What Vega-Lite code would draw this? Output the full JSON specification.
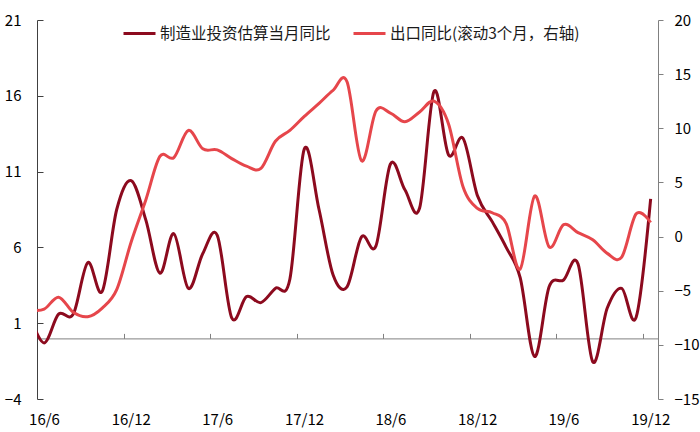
{
  "$schema": "https://vega.github.io/schema/vega-lite/v6.json",
  "width": 621,
  "height": 379,
  "autosize": "none",
  "padding": {"left": 37, "top": 20, "right": 42, "bottom": 33},
  "config": {
    "view": {"stroke": null},
    "font": "Noto Sans CJK SC",
    "axis": {"grid": false, "title": null, "labelFont": "Noto Sans CJK SC", "labelFontSize": 15, "labelColor": "#000000"}
  },
  "data": {
    "values": [
      {"month": "2016-05-01", "制造业投资估算当月同比": 1.5, "出口同比(滚动3个月，右轴)": -6.8},
      {"month": "2016-06-01", "制造业投资估算当月同比": -0.3, "出口同比(滚动3个月，右轴)": -6.7},
      {"month": "2016-07-01", "制造业投资估算当月同比": 1.6, "出口同比(滚动3个月，右轴)": -5.6},
      {"month": "2016-08-01", "制造业投资估算当月同比": 1.6, "出口同比(滚动3个月，右轴)": -7.0},
      {"month": "2016-09-01", "制造业投资估算当月同比": 5.0, "出口同比(滚动3个月，右轴)": -7.4},
      {"month": "2016-10-01", "制造业投资估算当月同比": 3.1, "出口同比(滚动3个月，右轴)": -6.6},
      {"month": "2016-11-01", "制造业投资估算当月同比": 8.5, "出口同比(滚动3个月，右轴)": -4.9},
      {"month": "2016-12-01", "制造业投资估算当月同比": 10.4, "出口同比(滚动3个月，右轴)": -0.5},
      {"month": "2017-01-01", "制造业投资估算当月同比": 7.8, "出口同比(滚动3个月，右轴)": 3.4},
      {"month": "2017-02-01", "制造业投资估算当月同比": 4.3, "出口同比(滚动3个月，右轴)": 7.4},
      {"month": "2017-03-01", "制造业投资估算当月同比": 6.9, "出口同比(滚动3个月，右轴)": 7.3},
      {"month": "2017-04-01", "制造业投资估算当月同比": 3.3, "出口同比(滚动3个月，右轴)": 9.8},
      {"month": "2017-05-01", "制造业投资估算当月同比": 5.6, "出口同比(滚动3个月，右轴)": 8.1},
      {"month": "2017-06-01", "制造业投资估算当月同比": 6.8, "出口同比(滚动3个月，右轴)": 8.0},
      {"month": "2017-07-01", "制造业投资估算当月同比": 1.35, "出口同比(滚动3个月，右轴)": 7.2},
      {"month": "2017-08-01", "制造业投资估算当月同比": 2.75, "出口同比(滚动3个月，右轴)": 6.5},
      {"month": "2017-09-01", "制造业投资估算当月同比": 2.36, "出口同比(滚动3个月，右轴)": 6.3},
      {"month": "2017-10-01", "制造业投资估算当月同比": 3.3, "出口同比(滚动3个月，右轴)": 8.8},
      {"month": "2017-11-01", "制造业投资估算当月同比": 3.9, "出口同比(滚动3个月，右轴)": 9.8},
      {"month": "2017-12-01", "制造业投资估算当月同比": 12.5, "出口同比(滚动3个月，右轴)": 11.1},
      {"month": "2018-01-01", "制造业投资估算当月同比": 8.5, "出口同比(滚动3个月，右轴)": 12.3},
      {"month": "2018-02-01", "制造业投资估算当月同比": 4.2, "出口同比(滚动3个月，右轴)": 13.5},
      {"month": "2018-03-01", "制造业投资估算当月同比": 3.4, "出口同比(滚动3个月，右轴)": 14.3},
      {"month": "2018-04-01", "制造业投资估算当月同比": 6.7, "出口同比(滚动3个月，右轴)": 7.0},
      {"month": "2018-05-01", "制造业投资估算当月同比": 6.1, "出口同比(滚动3个月，右轴)": 11.6},
      {"month": "2018-06-01", "制造业投资估算当月同比": 11.5, "出口同比(滚动3个月，右轴)": 11.4},
      {"month": "2018-07-01", "制造业投资估算当月同比": 9.8, "出口同比(滚动3个月，右轴)": 10.6},
      {"month": "2018-08-01", "制造业投资估算当月同比": 8.6, "出口同比(滚动3个月，右轴)": 11.5},
      {"month": "2018-09-01", "制造业投资估算当月同比": 16.3, "出口同比(滚动3个月，右轴)": 12.5},
      {"month": "2018-10-01", "制造业投资估算当月同比": 12.1, "出口同比(滚动3个月，右轴)": 10.4},
      {"month": "2018-11-01", "制造业投资估算当月同比": 13.2, "出口同比(滚动3个月，右轴)": 4.6},
      {"month": "2018-12-01", "制造业投资估算当月同比": 9.4, "出口同比(滚动3个月，右轴)": 2.6},
      {"month": "2019-01-01", "制造业投资估算当月同比": 7.7, "出口同比(滚动3个月，右轴)": 2.2},
      {"month": "2019-02-01", "制造业投资估算当月同比": 6.0, "出口同比(滚动3个月，右轴)": 1.2},
      {"month": "2019-03-01", "制造业投资估算当月同比": 4.0, "出口同比(滚动3个月，右轴)": -3.0},
      {"month": "2019-04-01", "制造业投资估算当月同比": -1.2, "出口同比(滚动3个月，右轴)": 3.75},
      {"month": "2019-05-01", "制造业投资估算当月同比": 3.4, "出口同比(滚动3个月，右轴)": -0.95},
      {"month": "2019-06-01", "制造业投资估算当月同比": 3.85, "出口同比(滚动3个月，右轴)": 1.1},
      {"month": "2019-07-01", "制造业投资估算当月同比": 4.9, "出口同比(滚动3个月，右轴)": 0.36},
      {"month": "2019-08-01", "制造业投资估算当月同比": -1.55, "出口同比(滚动3个月，右轴)": -0.3},
      {"month": "2019-09-01", "制造业投资估算当月同比": 2.0, "出口同比(滚动3个月，右轴)": -1.55},
      {"month": "2019-10-01", "制造业投资估算当月同比": 3.3, "出口同比(滚动3个月，右轴)": -1.9},
      {"month": "2019-11-01", "制造业投资估算当月同比": 1.4, "出口同比(滚动3个月，右轴)": 2.1},
      {"month": "2019-12-01", "制造业投资估算当月同比": 9.2, "出口同比(滚动3个月，右轴)": 1.3}
    ]
  },
  "transform": [
    {"fold": ["制造业投资估算当月同比", "出口同比(滚动3个月，右轴)"], "as": ["series", "value"]}
  ],
  "layer": [
    {
      "transform": [{"filter": "datum.series == '制造业投资估算当月同比'"}],
      "mark": {"type": "line", "interpolate": "cardinal", "strokeWidth": 3, "clip": true},
      "encoding": {
        "x": {
          "field": "month", "type": "temporal", "timeUnit": "utcyearmonth", "bandPosition": 0.5,
          "scale": {"type": "utc", "domain": [{"year": 2016, "month": 6, "date": 1, "utc": true}, {"year": 2020, "month": 1, "date": 1, "utc": true}]},
          "axis": {
            "orient": "bottom",
            "values": [
              {"year": 2016, "month": 6, "date": 1, "utc": true},
              {"year": 2016, "month": 12, "date": 1, "utc": true},
              {"year": 2017, "month": 6, "date": 1, "utc": true},
              {"year": 2017, "month": 12, "date": 1, "utc": true},
              {"year": 2018, "month": 6, "date": 1, "utc": true},
              {"year": 2018, "month": 12, "date": 1, "utc": true},
              {"year": 2019, "month": 6, "date": 1, "utc": true},
              {"year": 2019, "month": 12, "date": 1, "utc": true}
            ],
            "labelExpr": "utcFormat(datum.value, '%y/%-m')",
            "labelOffset": 7, "ticks": false, "domain": false, "labelPadding": 13, "labelFlush": false
          }
        },
        "y": {
          "field": "value", "type": "quantitative",
          "scale": {"domain": [-4, 21], "nice": false, "zero": false},
          "axis": {"orient": "left", "values": [-4, 1, 6, 11, 16, 21], "tickSize": -6, "labelPadding": 22, "domainColor": "#404040", "tickColor": "#404040"}
        },
        "color": {
          "field": "series", "type": "nominal",
          "scale": {"domain": ["制造业投资估算当月同比", "出口同比(滚动3个月，右轴)"], "range": ["#8C0A1E", "#E6464B"]},
          "legend": {
            "orient": "none", "legendX": 85, "legendY": -4, "direction": "horizontal", "title": null,
            "symbolType": "stroke", "symbolStrokeWidth": 3, "symbolSize": 1024,
            "labelFont": "Noto Sans CJK SC", "labelFontSize": 15.5, "labelColor": "#1a1a1a",
            "labelOffset": 3, "columnPadding": 16, "labelLimit": 400
          }
        }
      }
    },
    {
      "transform": [{"filter": "datum.series == '出口同比(滚动3个月，右轴)'"}],
      "mark": {"type": "line", "interpolate": "cardinal", "strokeWidth": 3, "clip": true},
      "encoding": {
        "x": {
          "field": "month", "type": "temporal", "timeUnit": "utcyearmonth", "bandPosition": 0.5,
          "scale": {"type": "utc", "domain": [{"year": 2016, "month": 6, "date": 1, "utc": true}, {"year": 2020, "month": 1, "date": 1, "utc": true}]},
          "axis": {
            "orient": "top", "offset": -318.4, "labels": false,
            "values": [
              {"year": 2016, "month": 12, "date": 1, "utc": true},
              {"year": 2017, "month": 6, "date": 1, "utc": true},
              {"year": 2017, "month": 12, "date": 1, "utc": true},
              {"year": 2018, "month": 6, "date": 1, "utc": true},
              {"year": 2018, "month": 12, "date": 1, "utc": true},
              {"year": 2019, "month": 6, "date": 1, "utc": true},
              {"year": 2019, "month": 12, "date": 1, "utc": true}
            ],
            "tickSize": 5, "domainColor": "#808080", "tickColor": "#808080"
          }
        },
        "y": {
          "field": "value", "type": "quantitative",
          "scale": {"domain": [-15, 20], "nice": false, "zero": false},
          "axis": {"orient": "right", "values": [-15, -10, -5, 0, 5, 10, 15, 20], "tickSize": 5, "labelPadding": 11, "domainColor": "#808080", "tickColor": "#808080"}
        },
        "color": {"field": "series", "type": "nominal"}
      }
    }
  ],
  "resolve": {"scale": {"y": "independent"}, "axis": {"x": "independent"}}
}
